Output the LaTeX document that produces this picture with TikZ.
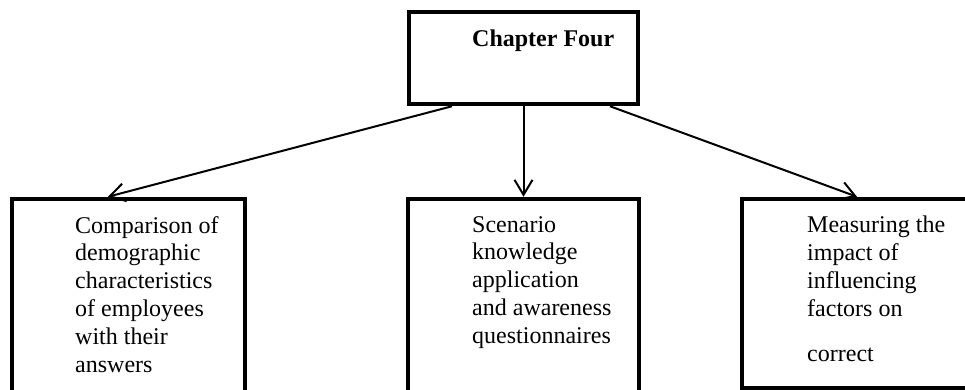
\documentclass[tikz,border=0pt]{standalone}
\usepackage{fontspec}
\setmainfont{Liberation Serif}
\usetikzlibrary{calc, positioning, arrows.meta}
\tikzstyle{box}=[draw, line width=4.5pt, shape=rectangle, inner sep=0pt]
\tikzstyle{txt}=[inner sep=0pt, align=left, anchor=north west, font=\fontsize{24}{27.8}\selectfont]
\tikzset{>={Straight Barb[length=15pt,width=18pt]}}

\begin{document}
\begin{tikzpicture}[x=1pt, y=-1pt]
\useasboundingbox (0,0) rectangle (965,390);
\clip (0,0) rectangle (965,390);
\node[box, minimum width=229pt, minimum height=92pt] (B0) at (523.5,58) {};
\node[box, minimum width=233pt, minimum height=240pt] (B1) at (128.5,319) {};
\node[box, minimum width=231pt, minimum height=240pt] (B2) at (523.5,319) {};
\node[box, minimum width=233pt, minimum height=189pt] (B3) at (858.5,293.5) {};
\node[txt, font=\bfseries\fontsize{24}{27.8}\selectfont, anchor=base west] (L0) at (472,47) {Chapter Four};
\node[txt] (L1) at (75,216) {Comparison of\\demographic\\characteristics\\of employees\\with their\\answers};
\node[txt] (L2) at (472,216) {Scenario\\knowledge\\application\\and awareness\\questionnaires};
\node[txt] (L3) at (807,216) {Measuring the\\impact of\\influencing\\factors on\\[17pt]correct};
\draw[->, line width=2pt] ([xshift=-71.5pt]B0.south) -- ([xshift=-20.5pt]B1.north);
\draw[->, line width=2pt] (B0.south) -- (B2.north);
\draw[->, line width=2pt] ([xshift=86.5pt]B0.south) -- ([xshift=-1.5pt]B3.north);
\end{tikzpicture}
\end{document}
